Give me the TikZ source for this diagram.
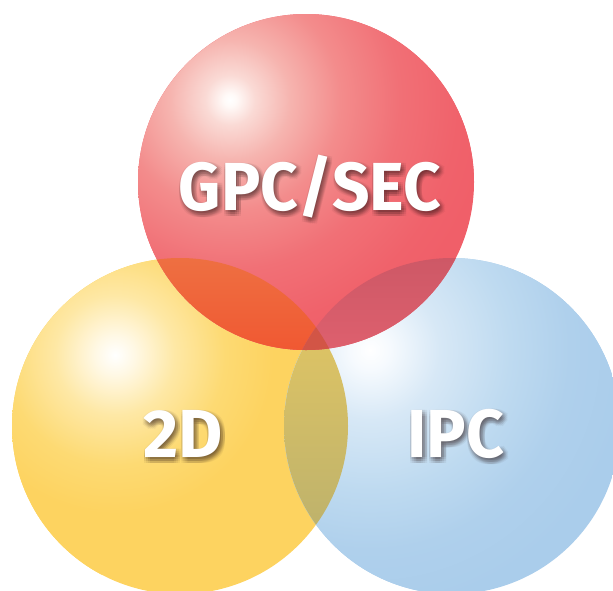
\documentclass[tikz,border=0pt]{standalone}
\usepackage{fontspec}
\setmainfont{Fira Sans}
\definecolor{rA}{RGB}{255,250,248}
\definecolor{rB}{RGB}{250,218,213}
\definecolor{rC}{RGB}{246,180,175}
\definecolor{rD}{RGB}{243,140,140}
\definecolor{rE}{RGB}{241,112,118}
\definecolor{rF}{RGB}{240,98,107}
\definecolor{rG}{RGB}{240,95,105}
\definecolor{yA}{RGB}{255,248,228}
\definecolor{yB}{RGB}{254,232,165}
\definecolor{yC}{RGB}{253,218,115}
\definecolor{yD}{RGB}{253,211,96}
\definecolor{bA}{RGB}{246,250,254}
\definecolor{bB}{RGB}{215,232,246}
\definecolor{bC}{RGB}{190,218,240}
\definecolor{bD}{RGB}{175,208,236}
\definecolor{bE}{RGB}{170,205,235}
\definecolor{ryTop}{RGB}{238,112,66}
\definecolor{ryBot}{RGB}{240,88,50}
\definecolor{rbTop}{RGB}{205,88,102}
\definecolor{rbBot}{RGB}{222,96,110}
\definecolor{ybTop}{RGB}{224,197,100}
\definecolor{ybBot}{RGB}{188,177,108}
\definecolor{rybC}{RGB}{210,85,70}
\definecolor{shadowc}{RGB}{40,20,20}
\pgfdeclareradialshading{redball}{\pgfpoint{0bp}{0bp}}{color(0bp)=(white); color(0.6bp)=(rA); color(2.4bp)=(rB); color(5.8bp)=(rC); color(10.6bp)=(rD); color(16.3bp)=(rE); color(22bp)=(rF); color(25bp)=(rG); color(50bp)=(rG)}
\pgfdeclareradialshading{yellowball}{\pgfpoint{0bp}{0bp}}{color(0bp)=(white); color(2.3bp)=(yA); color(6.8bp)=(yB); color(12.5bp)=(yC); color(18bp)=(yD); color(25bp)=(yD); color(50bp)=(yD)}
\pgfdeclareradialshading{blueball}{\pgfpoint{0bp}{0bp}}{color(0bp)=(white); color(1.9bp)=(bA); color(6.7bp)=(bB); color(13.5bp)=(bC); color(19.2bp)=(bD); color(25bp)=(bE); color(50bp)=(bE)}
\tikzset{
  lbl/.style={text=white, inner sep=0pt, anchor=base, font=\fontsize{68}{68}\selectfont\bfseries},
  shd/.style={text=shadowc, text opacity=0.055, inner sep=0pt, anchor=base, font=\fontsize{68}{68}\selectfont\bfseries}
}
\newcommand\shadowlabel[4][1]{%
  \foreach \dx in {-1,1,3,5} {\foreach \dy in {0,-2,-4,-6} {%
    \node[shd, xscale=#1] (#3s\dx\dy) at ([shift={(\dx pt,\dy pt)}]#2) {#4};}}%
  \node[lbl, xscale=#1] (#3) at (#2) {#4};}
\begin{document}
\begin{tikzpicture}[x=1pt,y=1pt]
\useasboundingbox (0,-590) rectangle (613,0);
\clip (0,-590) rectangle (613,0);
\coordinate (cr) at (306,-182);
\coordinate (cy) at (180,-426);
\coordinate (cb) at (452,-426);
% yellow
\begin{scope}
  \clip (cy) circle (168);
  \fill[yD] (cy) circle (170);
  \shade[shading=yellowball] (115,-355) circle (220);
\end{scope}
% blue
\begin{scope}
  \clip (cb) circle (168);
  \fill[bE] (cb) circle (170);
  \shade[shading=blueball] (370,-350) circle (260);
\end{scope}
% red
\begin{scope}
  \clip (cr) circle (168);
  \fill[rG] (cr) circle (170);
  \shade[shading=redball] (230,-100) circle (260);
\end{scope}
% overlaps
\begin{scope}
  \clip (cy) circle (168);
  \clip (cb) circle (168);
  \shade[top color=ybTop, bottom color=ybBot] (280,-320) rectangle (352,-540);
\end{scope}
\begin{scope}
  \clip (cr) circle (168);
  \clip (cy) circle (168);
  \shade[top color=ryTop, bottom color=ryBot] (140,-255) rectangle (350,-352);
\end{scope}
\begin{scope}
  \clip (cr) circle (168);
  \clip (cb) circle (168);
  \shade[top color=rbTop, bottom color=rbBot] (280,-255) rectangle (475,-352);
\end{scope}
\begin{scope}
  \clip (cr) circle (168);
  \clip (cy) circle (168);
  \clip (cb) circle (168);
  \fill[rybC] (280,-300) rectangle (350,-360);
\end{scope}
% labels
\coordinate (pg) at (310,-210);
\coordinate (p2) at (183.5,-457);
\coordinate (pi) at (456,-457);
\shadowlabel[0.965]{pg}{gpc}{GPC/SEC}
\shadowlabel{p2}{twod}{2D}
\shadowlabel[0.97]{pi}{ipc}{IPC}
\end{tikzpicture}
\end{document}
